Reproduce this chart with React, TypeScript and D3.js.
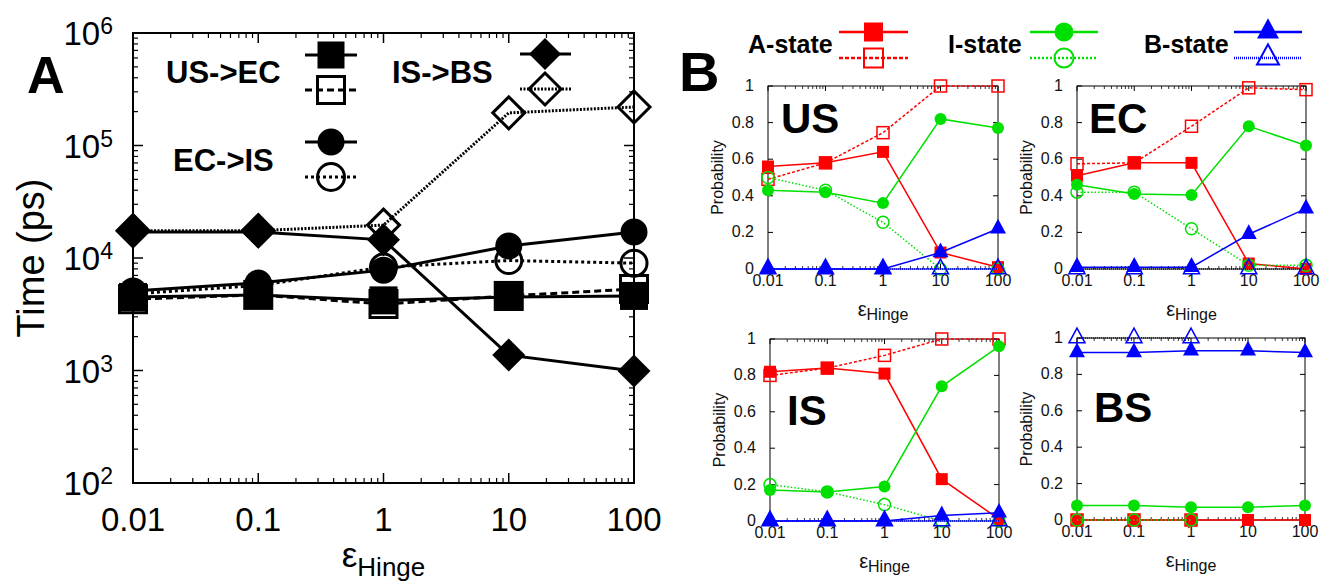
import React from "react";
import * as d3 from "d3";

// ---------------- data ----------------
const epsValues = [0.01, 0.1, 1, 10, 100];
const epsTickLabels = ["0.01", "0.1", "1", "10", "100"];
const timeExponents = [2, 3, 4, 5, 6];
const probTicks = [0, 0.2, 0.4, 0.6, 0.8, 1];
const probTickLabels = ["0", "0.2", "0.4", "0.6", "0.8", "1"];

// Panel A: transition times (ps)
const usEcSolid = [4500, 4700, 4200, 4500, 4600];
const usEcDashed = [4300, 4700, 3900, 4600, 5300];
const ecIsSolid = [5100, 6000, 7800, 12800, 17000];
const ecIsDotted = [4800, 5700, 8300, 9500, 9000];
const isBsSolid = [17000, 17000, 14500, 1370, 990];
const isBsDotted = [17500, 17500, 19600, 195000, 220000];

// Panel B: probabilities (solid = filled, dashed = open)
const usA = [0.56, 0.58, 0.64, 0.09, 0.01];
const usAd = [0.49, 0.58, 0.745, 1.0, 1.0];
const usI = [0.43, 0.42, 0.36, 0.82, 0.77];
const usId = [0.5, 0.43, 0.255, 0.0, 0.0];
const usB = [0, 0, 0, 0.09, 0.22];
const usBd = [0, 0, 0, 0, 0];

const ecA = [0.51, 0.58, 0.58, 0.03, 0.0];
const ecAd = [0.575, 0.58, 0.78, 0.99, 0.98];
const ecI = [0.46, 0.41, 0.405, 0.78, 0.675];
const ecId = [0.42, 0.42, 0.22, 0.02, 0.02];
const ecB = [0.01, 0.01, 0.01, 0.19, 0.33];
const ecBd = [0, 0, 0, 0, 0];

const isA = [0.82, 0.84, 0.81, 0.23, 0.01];
const isAd = [0.8, 0.84, 0.91, 1.0, 1.0];
const isI = [0.17, 0.16, 0.19, 0.74, 0.96];
const isId = [0.2, 0.16, 0.09, 0.0, 0.0];
const isB = [0, 0, 0, 0.03, 0.045];
const isBd = [0, 0, 0, 0, 0];

const bsA = [0, 0, 0, 0, 0];
const bsAd = [0, 0, 0];
const bsI = [0.08, 0.08, 0.07, 0.07, 0.08];
const bsId = [0, 0, 0];
const bsB = [0.92, 0.92, 0.93, 0.93, 0.92];
const bsBd = [1, 1, 1];

const FONT = "'Liberation Sans', Arial, Helvetica, sans-serif";
const RED = "#ff0000";
const GREEN = "#00e000";
const BLUE = "#0000ff";

type MarkerKind = "square" | "circle" | "diamond" | "triangle";

function Marker({ kind, cx, cy, size, filled, color, sw }: { kind: MarkerKind; cx: number; cy: number; size: number; filled: boolean; color: string; sw: number }) {
  const fill = filled ? color : "none";
  const h = size / 2;
  if (kind === "square") {
    return <rect x={cx - h} y={cy - h} width={size} height={size} fill={fill} stroke={color} strokeWidth={filled ? 0 : sw} />;
  }
  if (kind === "circle") {
    return <circle cx={cx} cy={cy} r={h} fill={fill} stroke={color} strokeWidth={filled ? 0 : sw} />;
  }
  if (kind === "diamond") {
    return <path d={`M${cx},${cy - h}L${cx + h},${cy}L${cx},${cy + h}L${cx - h},${cy}Z`} fill={fill} stroke={color} strokeWidth={filled ? 0 : sw} />;
  }
  return <path d={`M${cx},${cy - size * 0.62}L${cx + h},${cy + size * 0.3}L${cx - h},${cy + size * 0.3}Z`} fill={fill} stroke={color} strokeWidth={filled ? 0 : sw} />;
}

function minorLogTicks(lo: number, hi: number) {
  const out: number[] = [];
  for (let d = lo; d < hi * 0.999; d *= 10) {
    for (let k = 2; k <= 9; k++) out.push(d * k);
  }
  return out;
}

// ---------------- Panel A ----------------
function PanelA() {
  const x0 = 133, x1 = 634, y0 = 33, y1 = 483;
  const x = d3.scaleLog().domain([0.01, 100]).range([x0, x1]);
  const y = d3.scaleLog().domain([100, 1e6]).range([y1, y0]);
  const line = d3.line<number>().x((_, i) => x(epsValues[i])).y((d) => y(d));

  const series = [
    { v: usEcDashed, kind: "square" as MarkerKind, filled: false, dash: "7,4", size: 27 },
    { v: ecIsDotted, kind: "circle" as MarkerKind, filled: false, dash: "3,3", size: 26 },
    { v: isBsDotted, kind: "diamond" as MarkerKind, filled: false, dash: "2,1.5", size: 32 },
    { v: usEcSolid, kind: "square" as MarkerKind, filled: true, dash: null, size: 28 },
    { v: ecIsSolid, kind: "circle" as MarkerKind, filled: true, dash: null, size: 27 },
    { v: isBsSolid, kind: "diamond" as MarkerKind, filled: true, dash: null, size: 33 },
  ];

  const xMinor = minorLogTicks(0.01, 100);
  const yMinor = minorLogTicks(100, 1e6);

  const legends = [
    { label: "US->EC", tx: 166, ty: 83, lx0: 305, lx1: 357, cx: 331, ys: [55, 90], kind: "square" as MarkerKind, size: 27, dash: "7,4" },
    { label: "EC->IS", tx: 173, ty: 171, lx0: 305, lx1: 357, cx: 331, ys: [142, 177], kind: "circle" as MarkerKind, size: 27, dash: "3,3" },
    { label: "IS->BS", tx: 392, ty: 83, lx0: 520, lx1: 571, cx: 545, ys: [54, 89], kind: "diamond" as MarkerKind, size: 32, dash: "2,1.5" },
  ];

  return (
    <g fontFamily={FONT}>
      {epsValues.map((v, i) => (
        <g key={"xt" + i}>
          <line x1={x(v)} x2={x(v)} y1={y1} y2={y1 - 10} stroke="#000" strokeWidth={1.5} />
          <line x1={x(v)} x2={x(v)} y1={y0} y2={y0 + 10} stroke="#000" strokeWidth={1.5} />
          <text x={x(v)} y={531} fontSize={33} textAnchor="middle">{epsTickLabels[i]}</text>
        </g>
      ))}
      {xMinor.map((v, i) => (
        <g key={"xm" + i}>
          <line x1={x(v)} x2={x(v)} y1={y1} y2={y1 - 5} stroke="#000" strokeWidth={1.2} />
          <line x1={x(v)} x2={x(v)} y1={y0} y2={y0 + 5} stroke="#000" strokeWidth={1.2} />
        </g>
      ))}
      {timeExponents.map((e) => {
        const v = Math.pow(10, e);
        return (
          <g key={"yt" + e}>
            <line x1={x0} x2={x0 + 10} y1={y(v)} y2={y(v)} stroke="#000" strokeWidth={1.5} />
            <line x1={x1} x2={x1 - 10} y1={y(v)} y2={y(v)} stroke="#000" strokeWidth={1.5} />
            <text x={113} y={y(v) + 12} fontSize={33} textAnchor="end">
              10<tspan fontSize={23} dy={-11}>{e}</tspan>
            </text>
          </g>
        );
      })}
      {yMinor.map((v, i) => (
        <g key={"ym" + i}>
          <line x1={x0} x2={x0 + 5} y1={y(v)} y2={y(v)} stroke="#000" strokeWidth={1.2} />
          <line x1={x1} x2={x1 - 5} y1={y(v)} y2={y(v)} stroke="#000" strokeWidth={1.2} />
        </g>
      ))}
      <rect x={x0} y={y0} width={x1 - x0} height={y1 - y0} fill="none" stroke="#000" strokeWidth={2} />

      {series.map((s, i) => (
        <path key={"l" + i} d={line(s.v) || ""} fill="none" stroke="#000" strokeWidth={3} strokeDasharray={s.dash || undefined} />
      ))}
      {series.map((s, i) => (
        <g key={"m" + i}>
          {s.v.map((d, j) => (
            <Marker key={j} kind={s.kind} cx={x(epsValues[j])} cy={y(d)} size={s.size} filled={s.filled} color="#000" sw={3} />
          ))}
        </g>
      ))}

      {legends.map((l, i) => (
        <g key={"lg" + i}>
          <text x={l.tx} y={l.ty} fontSize={31} fontWeight="bold">{l.label}</text>
          <line x1={l.lx0} x2={l.lx1} y1={l.ys[0]} y2={l.ys[0]} stroke="#000" strokeWidth={3} />
          <Marker kind={l.kind} cx={l.cx} cy={l.ys[0]} size={l.size} filled={true} color="#000" sw={3} />
          <line x1={l.lx0} x2={l.lx1} y1={l.ys[1]} y2={l.ys[1]} stroke="#000" strokeWidth={3} strokeDasharray={l.dash} />
          <Marker kind={l.kind} cx={l.cx} cy={l.ys[1]} size={l.size} filled={false} color="#000" sw={3} />
        </g>
      ))}

      <text x={27} y={93} fontSize={52} fontWeight="bold">A</text>
      <text transform={`translate(44,${(y0 + y1) / 2}) rotate(-90)`} fontSize={38} textAnchor="middle">Time (ps)</text>
      <text x={(x0 + x1) / 2} y={567} fontSize={35} textAnchor="middle">
        ε<tspan fontSize={26} dy={9}>Hinge</tspan>
      </text>
    </g>
  );
}

// ---------------- Panel B ----------------
type ProbSeries = { v: number[]; color: string; kind: MarkerKind; filled: boolean; dash: string | null; size: number };

function ProbPanel({ label, x0, x1, y0, y1, lx, ly, series }: { label: string; x0: number; x1: number; y0: number; y1: number; lx: number; ly: number; series: ProbSeries[] }) {
  const x = d3.scaleLog().domain([0.01, 100]).range([x0, x1]);
  const y = d3.scaleLinear().domain([0, 1]).range([y1, y0]);
  const line = d3.line<number>().x((_, i) => x(epsValues[i])).y((d) => y(d));
  const xMinor = minorLogTicks(0.01, 100);
  return (
    <g fontFamily={FONT}>
      {epsValues.map((v, i) => (
        <g key={"xt" + i}>
          <line x1={x(v)} x2={x(v)} y1={y1} y2={y1 - 5} stroke="#000" strokeWidth={1} />
          <line x1={x(v)} x2={x(v)} y1={y0} y2={y0 + 5} stroke="#000" strokeWidth={1} />
          <text x={x(v)} y={y1 + 17} fontSize={16} textAnchor="middle" fill="#111">{epsTickLabels[i]}</text>
        </g>
      ))}
      {xMinor.map((v, i) => (
        <g key={"xm" + i}>
          <line x1={x(v)} x2={x(v)} y1={y1} y2={y1 - 3} stroke="#000" strokeWidth={0.8} />
          <line x1={x(v)} x2={x(v)} y1={y0} y2={y0 + 3} stroke="#000" strokeWidth={0.8} />
        </g>
      ))}
      {probTicks.map((t, i) => (
        <g key={"yt" + i}>
          <line x1={x0} x2={x0 + 5} y1={y(t)} y2={y(t)} stroke="#000" strokeWidth={1} />
          <line x1={x1} x2={x1 - 5} y1={y(t)} y2={y(t)} stroke="#000" strokeWidth={1} />
          <text x={x0 - 14} y={y(t) + 5} fontSize={16} textAnchor="end" fill="#111">{probTickLabels[i]}</text>
        </g>
      ))}
      <rect x={x0} y={y0} width={x1 - x0} height={y1 - y0} fill="none" stroke="#000" strokeWidth={1} />
      <text x={lx} y={ly} fontSize={42} fontWeight="bold">{label}</text>
      <text transform={`translate(${x0 - 45},${(y0 + y1) / 2}) rotate(-90)`} fontSize={16} textAnchor="middle" fill="#111">Probability</text>
      <text x={(x0 + x1) / 2} y={y1 + 47} fontSize={20} textAnchor="middle" fill="#111">
        ε<tspan fontSize={16} dy={4}>Hinge</tspan>
      </text>
      {series.map((s, i) => (
        <g key={"s" + i}>
          <path d={line(s.v) || ""} fill="none" stroke={s.color} strokeWidth={1.5} strokeDasharray={s.dash || undefined} />
          {s.v.map((d, j) => (
            <Marker key={j} kind={s.kind} cx={x(epsValues[j])} cy={y(d)} size={s.size} filled={s.filled} color={s.color} sw={1.5} />
          ))}
        </g>
      ))}
    </g>
  );
}

function makeSeries(a: number[], ad: number[], i: number[], id: number[], b: number[], bd: number[]): ProbSeries[] {
  return [
    { v: a, color: RED, kind: "square", filled: true, dash: null, size: 12 },
    { v: ad, color: RED, kind: "square", filled: false, dash: "3,2", size: 12 },
    { v: i, color: GREEN, kind: "circle", filled: true, dash: null, size: 12 },
    { v: id, color: GREEN, kind: "circle", filled: false, dash: "1.5,2", size: 12 },
    { v: b, color: BLUE, kind: "triangle", filled: true, dash: null, size: 16 },
    { v: bd, color: BLUE, kind: "triangle", filled: false, dash: "1,1", size: 16 },
  ];
}

function LegendB() {
  const items = [
    { label: "A-state", tx: 748, lx0: 839, lx1: 908, color: RED, kind: "square" as MarkerKind, size: 19, dash: "4,2" },
    { label: "I-state", tx: 948, lx0: 1030, lx1: 1098, color: GREEN, kind: "circle" as MarkerKind, size: 19, dash: "2,2" },
    { label: "B-state", tx: 1144, lx0: 1234, lx1: 1302, color: BLUE, kind: "triangle" as MarkerKind, size: 22, dash: "1,1" },
  ];
  return (
    <g fontFamily={FONT}>
      {items.map((it, i) => {
        const cx = (it.lx0 + it.lx1) / 2;
        return (
          <g key={i}>
            <text x={it.tx} y={53} fontSize={25} fontWeight="bold">{it.label}</text>
            <line x1={it.lx0} x2={it.lx1} y1={32} y2={32} stroke={it.color} strokeWidth={2.5} />
            <Marker kind={it.kind} cx={cx} cy={32} size={it.size} filled={true} color={it.color} sw={2} />
            <line x1={it.lx0} x2={it.lx1} y1={58} y2={58} stroke={it.color} strokeWidth={2.5} strokeDasharray={it.dash} />
            <Marker kind={it.kind} cx={cx} cy={58} size={it.size} filled={false} color={it.color} sw={2} />
          </g>
        );
      })}
      <text x={679} y={91} fontSize={56} fontWeight="bold">B</text>
    </g>
  );
}

export default function App() {
  return (
    <svg width={1333} height={585} style={{ position: "absolute", left: 0, top: 0, background: "#fff" }}>
      <rect x={0} y={0} width={1333} height={585} fill="#fff" />
      <PanelA />
      <LegendB />
      <ProbPanel label="US" x0={768} x1={998} y0={86} y1={269} lx={781} ly={133} series={makeSeries(usA, usAd, usI, usId, usB, usBd)} />
      <ProbPanel label="EC" x0={1077} x1={1306} y0={86} y1={269} lx={1089} ly={133} series={makeSeries(ecA, ecAd, ecI, ecId, ecB, ecBd)} />
      <ProbPanel label="IS" x0={770} x1={999} y0={339} y1={521} lx={787} ly={425} series={makeSeries(isA, isAd, isI, isId, isB, isBd)} />
      <ProbPanel label="BS" x0={1077} x1={1305} y0={338} y1={520} lx={1094} ly={422} series={makeSeries(bsA, bsAd, bsI, bsId, bsB, bsBd)} />
    </svg>
  );
}
